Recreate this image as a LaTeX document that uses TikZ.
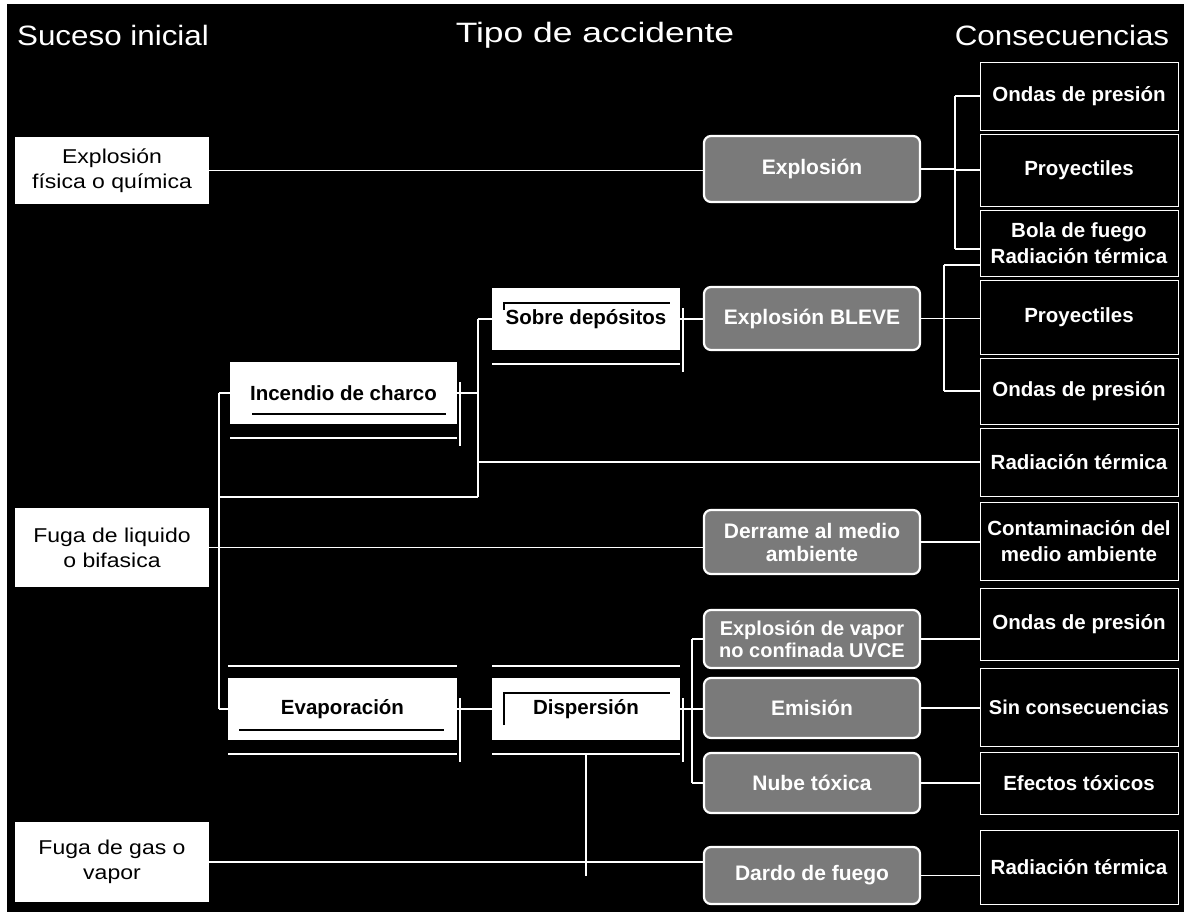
\documentclass[tikz,border=0pt]{standalone}
\usepackage{fontspec}
\setmainfont{Liberation Sans}
\newfontfamily\headfont[FakeStretch=1.12]{Liberation Sans}
\newfontfamily\leftfont[FakeStretch=1.15]{Liberation Sans}
\usetikzlibrary{calc}

\tikzset{
  base/.style={outer sep=0pt, inner sep=2pt, anchor=north west, align=center},
  header/.style={text=white, font=\headfont\fontsize{28}{32}\selectfont, inner sep=0pt, anchor=center},
  startbox/.style={base, fill=white, text=black, minimum width=194pt,
    font=\leftfont\fontsize{20}{25}\selectfont},
  midbox/.style={base, fill=white, text=black,
    font=\bfseries\fontsize{20.5}{24}\selectfont},
  accbox/.style={base, rounded corners=7pt, fill=black!52, draw=white, line width=2.2pt,
    text=white, minimum width=216pt, font=\bfseries\fontsize{21}{23}\selectfont},
  conbox/.style={base, draw=white, line width=0.8pt, text=white, minimum width=198pt,
    font=\bfseries\fontsize{20.5}{26}\selectfont},
  link/.style={draw=white, line width=1.1pt},
  rail/.style={draw=white, line width=2pt},
  mark line/.style={draw=black, line width=1.2pt},
}

\begin{document}
\begin{tikzpicture}[x=1pt, y=-1pt]
  % page and dark panel
  \fill[white] (0,0) rectangle (1184,912);
  \useasboundingbox (0,0) rectangle (1184,912);
  \fill[black] (7,4) rectangle (1184,912);

  % column titles
  \node[header] (h1) at (113,35) {Suceso inicial};
  \node[header] (h2) at (595,35) {\scalebox{1.13}[1]{Tipo de accidente}};
  \node[header] (h3) at (1062,35) {Consecuencias};

  % initiating events
  \node[startbox, minimum height=67pt] (A1) at (15,137) {Explosión\\física o química};
  \node[startbox, minimum height=79pt] (A2) at (15,508) {Fuga de liquido\\o bifasica};
  \node[startbox, minimum height=80pt] (A3) at (15,822) {Fuga de gas o\\vapor};

  % intermediate stages
  \node[midbox, minimum width=227pt, minimum height=62pt] (B1) at (230,362) {Incendio de charco};
  \node[midbox, minimum width=229pt, minimum height=62pt] (B2) at (228,678) {Evaporación};
  \node[midbox, minimum width=188pt, minimum height=62pt] (B3) at (492,288) {Sobre depósitos};
  \node[midbox, minimum width=188pt, minimum height=62pt] (B4) at (492,678) {Dispersión};

  % inner marks of the white boxes
  \draw[mark line] (252,414) -- (446,414);
  \draw[mark line] (239,730) -- (444,730);
  \draw[mark line] (504,310) -- (504,303) -- (670,303);
  \draw[mark line] (504,725) -- (504,693) -- (670,693);

  % frame rails around the intermediate boxes
  \foreach \n in {B1,B2,B3,B4}{
    \draw[rail] ([yshift=-14pt]\n.south west) -- ([yshift=-14pt]\n.south east);
    \draw[rail] ([xshift=3pt,yshift=-20pt]\n.north east) -- ([xshift=3pt,yshift=-22pt]\n.south east);
  }
  \foreach \n in {B2,B4}{
    \draw[rail] ([yshift=12pt]\n.north west) -- ([yshift=12pt]\n.north east);
  }

  % accident types
  \node[accbox, minimum height=66pt] (C1) at (704,136) {Explosión};
  \node[accbox, minimum height=63pt] (C2) at (704,287) {Explosión BLEVE};
  \node[accbox, minimum height=64pt] (C3) at (704,510) {Derrame al medio\\ambiente};
  \node[accbox, minimum height=58pt, font=\bfseries\fontsize{20}{22}\selectfont] (C4) at (704,610) {Explosión de vapor\\no confinada UVCE};
  \node[accbox, minimum height=60pt] (C5) at (704,678) {Emisión};
  \node[accbox, minimum height=60pt] (C6) at (704,753) {Nube tóxica};
  \node[accbox, minimum height=57pt] (C7) at (704,847) {Dardo de fuego};

  % consequences
  \node[conbox, minimum height=68pt] (D1) at (980,62) {Ondas de presión};
  \node[conbox, minimum height=72pt] (D2) at (980,134) {Proyectiles};
  \node[conbox, minimum height=66pt] (D3) at (980,210) {Bola de fuego\\Radiación térmica};
  \node[conbox, minimum height=74pt] (D4) at (980,280) {Proyectiles};
  \node[conbox, minimum height=66pt] (D5) at (980,358) {Ondas de presión};
  \node[conbox, minimum height=68pt] (D6) at (980,428) {Radiación térmica};
  \node[conbox, minimum height=78pt] (D7) at (980,502) {Contaminación del\\medio ambiente};
  \node[conbox, minimum height=72pt] (D8) at (980,588) {Ondas de presión};
  \node[conbox, minimum height=78pt, font=\bfseries\fontsize{20}{26}\selectfont] (D9) at (980,668) {Sin consecuencias};
  \node[conbox, minimum height=62pt] (D10) at (980,752) {Efectos tóxicos};
  \node[conbox, minimum height=74pt] (D11) at (980,830) {Radiación térmica};

  % bus positions
  \coordinate (lb) at (219,0);
  \coordinate (ib) at (478,0);
  \coordinate (db) at (692,0);
  \coordinate (eb) at (955,0);
  \coordinate (fb) at (944,0);
  \coordinate (r1) at (219,497);
  \coordinate (r2) at (478,497);

  % explosion branch
  \draw[link] (A1.east) -- (A1.east -| C1.west);
  \draw[link] (C1.east) -- (C1.east -| eb);
  \draw[link] (D1.west -| eb) -- ([yshift=-6pt]D3.west -| eb);
  \draw[link] (D1.west -| eb) -- (D1.west);
  \draw[link] (D2.west -| eb) -- (D2.west);
  \draw[link] ([yshift=-6pt]D3.west -| eb) -- ([yshift=-6pt]D3.west);

  % liquid release branch
  \draw[link] (A2.east) -- (A2.east -| C3.west);
  \draw[link] (B1.west -| lb) -- (B2.west -| lb);
  \draw[link] (B1.west -| lb) -- (B1.west);
  \draw[link] (B2.west -| lb) -- (B2.west);
  \draw[link] (r1) -- (r2);

  % pool fire branch
  \draw[link] (B1.east) -- (B1.east -| ib);
  \draw[link] (B3.west -| ib) -- (r2);
  \draw[link] (B3.west -| ib) -- (B3.west);
  \draw[link] (D6.west -| ib) -- (D6.west);
  \draw[link] (B3.east) -- (B3.east -| C2.west);

  % BLEVE consequences
  \draw[link] (C2.east) -- (C2.east -| D4.west);
  \draw[link] ([yshift=-22pt]D3.west -| fb) -- (D5.west -| fb);
  \draw[link] ([yshift=-22pt]D3.west -| fb) -- ([yshift=-22pt]D3.west);
  \draw[link] (D5.west -| fb) -- (D5.west);

  % evaporation and dispersion
  \draw[link] (B2.east) -- (B4.west);
  \draw[link] (B4.east) -- (B4.east -| C5.west);
  \draw[link] (C4.west -| db) -- (C6.west -| db);
  \draw[link] (C4.west -| db) -- (C4.west);
  \draw[link] (C6.west -| db) -- (C6.west);
  \draw[link] ([yshift=-14pt]B4.south) -- ([yshift=-14pt]B4.south |- A3.east);

  % gas release
  \draw[link] (A3.east) -- (A3.east -| C7.west);

  % accident types to consequences
  \draw[link] (C3.east) -- (C3.east -| D7.west);
  \draw[link] (C4.east) -- (C4.east -| D8.west);
  \draw[link] (C5.east) -- (C5.east -| D9.west);
  \draw[link] (C6.east) -- (C6.east -| D10.west);
  \draw[link] (C7.east) -- (C7.east -| D11.west);
\end{tikzpicture}
\end{document}
